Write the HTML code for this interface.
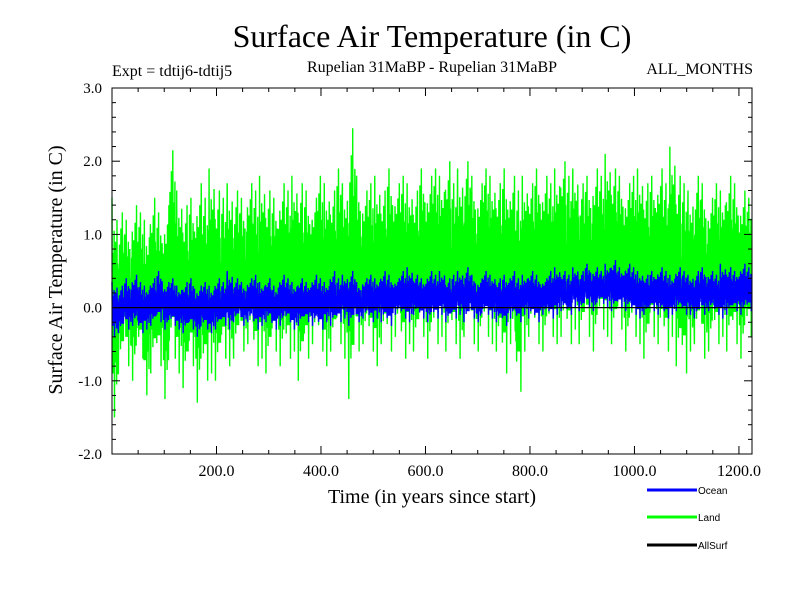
<!DOCTYPE html>
<html><head><meta charset="utf-8"><style>
body{margin:0;background:#fff}
svg{display:block;font-family:"Liberation Serif",serif}
</style></head><body>
<svg id="chart" width="800" height="600">
<text x="432" y="47" font-size="32" text-anchor="middle">Surface Air Temperature (in C)</text>
<text x="112" y="76" font-size="16">Expt = tdtij6-tdtij5</text>
<text x="432" y="72" font-size="16" text-anchor="middle">Rupelian  31MaBP - Rupelian  31MaBP</text>
<text x="753" y="74" font-size="16" text-anchor="end">ALL_MONTHS</text>
<text transform="translate(62,270) rotate(-90)" font-size="20" text-anchor="middle">Surface Air Temperature (in C)</text>
<text x="432" y="503" font-size="20" text-anchor="middle">Time (in years since start)</text>
<g id="plot"></g>
<g id="axes"></g>
<g font-family="Liberation Sans, sans-serif" font-size="10">
<g><line x1="647" y1="490" x2="697" y2="490" stroke="#0000ff" stroke-width="3"/><text x="698" y="494">Ocean</text></g>
<g><line x1="647" y1="517" x2="697" y2="517" stroke="#00ff00" stroke-width="3"/><text x="698" y="521">Land</text></g>
<g><line x1="647" y1="545" x2="697" y2="545" stroke="#000" stroke-width="3"/><text x="698" y="549">AllSurf</text></g>
</g>
</svg>
<script>
const landHi=[1.5,1.3,1.2,1.4,1.3,1.2,1.5,1.3,1.4,2.15,1.6,1.4,1.5,1.7,1.5,1.9,1.6,1.5,1.7,1.6,1.5,1.7,1.6,1.8,1.6,1.5,1.7,1.6,1.8,1.7,1.6,1.5,1.8,1.7,1.6,1.9,1.7,2.45,1.8,1.6,1.7,1.8,1.6,1.9,1.7,1.8,1.7,1.6,1.9,1.8,1.9,1.8,2.0,1.7,1.9,2.0,1.8,1.7,1.9,1.8,1.7,1.9,1.8,1.6,1.8,1.7,1.9,1.8,1.7,1.9,2.0,1.8,1.9,1.7,1.8,1.9,1.8,2.1,1.9,1.8,1.7,1.8,1.9,1.7,1.8,1.9,1.7,2.2,1.8,1.7,1.6,1.8,1.7,1.5,1.7,1.6,1.8,1.7,1.6,1.5];
const landLo=[-1.5,-0.9,-0.8,-1.0,-0.7,-1.2,-0.9,-0.8,-1.25,-0.7,-0.9,-1.1,-0.8,-1.3,-1.0,-0.9,-1.0,-0.7,-0.8,-0.7,-0.6,-0.5,-0.8,-0.7,-0.9,-0.6,-0.8,-0.7,-0.6,-1.0,-0.7,-0.5,-0.6,-0.8,-0.6,-0.5,-0.7,-1.25,-0.6,-0.5,-0.6,-0.8,-0.5,-0.6,-0.4,-0.7,-0.5,-0.6,-0.4,-0.7,-0.5,-0.4,-0.6,-0.5,-0.7,-0.4,-0.5,-0.6,-0.4,-0.5,-0.6,-0.9,-0.5,-1.15,-0.6,-0.4,-0.5,-0.6,-0.4,-0.5,-0.4,-0.5,-0.3,-0.5,-0.4,-0.6,-0.3,-0.4,-0.5,-0.3,-0.6,-0.4,-0.5,-0.7,-0.4,-0.5,-0.6,-0.4,-0.8,-0.9,-0.6,-0.5,-0.7,-0.6,-0.5,-0.4,-0.6,-0.5,-0.7,-0.4];
const oceanHi=[0.35,0.3,0.4,0.45,0.35,0.3,0.4,0.5,0.35,0.4,0.3,0.35,0.4,0.3,0.35,0.3,0.4,0.35,0.5,0.4,0.35,0.4,0.45,0.35,0.4,0.3,0.45,0.4,0.35,0.4,0.35,0.45,0.4,0.35,0.5,0.4,0.45,0.5,0.35,0.4,0.45,0.4,0.5,0.45,0.4,0.5,0.55,0.45,0.4,0.5,0.45,0.5,0.4,0.45,0.5,0.55,0.45,0.4,0.5,0.45,0.4,0.45,0.5,0.4,0.45,0.5,0.45,0.4,0.5,0.55,0.5,0.45,0.55,0.5,0.6,0.55,0.5,0.6,0.65,0.55,0.6,0.55,0.5,0.45,0.5,0.55,0.5,0.45,0.55,0.5,0.45,0.5,0.55,0.5,0.45,0.6,0.55,0.5,0.6,0.55];
const oceanLo=[-0.4,-0.35,-0.3,-0.25,-0.35,-0.3,-0.25,-0.2,-0.3,-0.25,-0.3,-0.35,-0.3,-0.4,-0.3,-0.35,-0.3,-0.25,-0.3,-0.2,-0.25,-0.2,-0.3,-0.25,-0.2,-0.3,-0.25,-0.2,-0.3,-0.25,-0.2,-0.25,-0.3,-0.2,-0.25,-0.2,-0.15,-0.25,-0.2,-0.15,-0.2,-0.15,-0.2,-0.25,-0.1,-0.15,-0.2,-0.1,-0.15,-0.2,-0.15,-0.1,-0.2,-0.15,-0.1,-0.2,-0.15,-0.2,-0.1,-0.15,-0.2,-0.25,-0.15,-0.2,-0.1,-0.15,-0.2,-0.1,-0.15,-0.1,-0.05,-0.1,0.0,-0.05,0.0,-0.05,0.05,0.0,-0.05,0.0,-0.05,-0.1,-0.15,-0.1,-0.05,-0.1,-0.15,-0.1,-0.05,-0.1,-0.1,-0.15,-0.1,-0.05,-0.1,-0.15,-0.1,-0.05,-0.1,-0.05];
const xTicks=[200,400,600,800,1000,1200];
const yTicks=[-2,-1,0,1,2,3];
const yTickLabels=["-2.0","-1.0","0.0","1.0","2.0","3.0"];
const xDomain=[0,1225], yDomain=[-2,3];
const X0=112,X1=752,Y0=454,Y1=88;
const sx=v=>X0+(v-xDomain[0])/(xDomain[1]-xDomain[0])*(X1-X0);
const sy=v=>Y0-(v-yDomain[0])/(yDomain[1]-yDomain[0])*(Y0-Y1);
const NS="http://www.w3.org/2000/svg";
const plot=document.getElementById('plot'), axes=document.getElementById('axes');
function mk(tag,attrs,parent){const e=document.createElementNS(NS,tag);for(const k in attrs)e.setAttribute(k,attrs[k]);parent.appendChild(e);return e;}
// within-bin sampling pattern (fractions between bin low and bin high)
const FR=[1,0.3,0.75,0.2,0.7,0.35,0.85,0,0.65,0.3,0.8,0.25,0.6,0.15,0.9,0.35,0.7,0.2];
function zig(hi,lo){const n=hi.length,w=(xDomain[1]-xDomain[0])/n;let pts=[];
 for(let i=0;i<n;i++){const t=xDomain[0]+i*w;const h=hi[i],l=lo[i];
  const off=(i*7)%FR.length;
  for(let j=0;j<FR.length;j++){const f=FR[(j+off)%FR.length];pts.push([t+w*j/FR.length,l+(h-l)*f]);}}
 return pts.map(p=>sx(p[0]).toFixed(2)+','+sy(p[1]).toFixed(1)).join(' ');}
const land=mk('polyline',{points:zig(landHi,landLo),fill:'none',stroke:'#00ff00','stroke-width':1.4},plot);


const ocean=mk('polyline',{points:zig(oceanHi,oceanLo),fill:'none',stroke:'#0000ff','stroke-width':1.4},plot);


const all=mk('line',{x1:X0,x2:X1,y1:sy(0),y2:sy(0),stroke:'#000','stroke-width':1.2},plot);


mk('rect',{x:X0,y:Y1,width:X1-X0,height:Y0-Y1,fill:'none',stroke:'#000','stroke-width':1},axes);
for(let v=50;v<xDomain[1];v+=50){const major=v%200===0;const L=major?8:4;
 mk('line',{x1:sx(v),x2:sx(v),y1:Y0,y2:Y0-L,stroke:'#000'},axes);
 mk('line',{x1:sx(v),x2:sx(v),y1:Y1,y2:Y1+L,stroke:'#000'},axes);}
xTicks.forEach(v=>{const t=mk('text',{x:sx(v),y:Y0+22,'font-size':16,'text-anchor':'middle'},axes);t.textContent=v.toFixed(1);
 
 });
for(let k=0;k<=25;k++){const v=yDomain[0]+k*0.2;const major=k%5===0;const L=major?8:4;
 mk('line',{x1:X0,x2:X0+L,y1:sy(v),y2:sy(v),stroke:'#000'},axes);
 mk('line',{x1:X1,x2:X1-L,y1:sy(v),y2:sy(v),stroke:'#000'},axes);}
yTicks.forEach((v,i)=>{const t=mk('text',{x:X0-10,y:sy(v)+5,'font-size':15,'text-anchor':'end'},axes);t.textContent=yTickLabels[i];
 
 });
</script>
</body></html>
